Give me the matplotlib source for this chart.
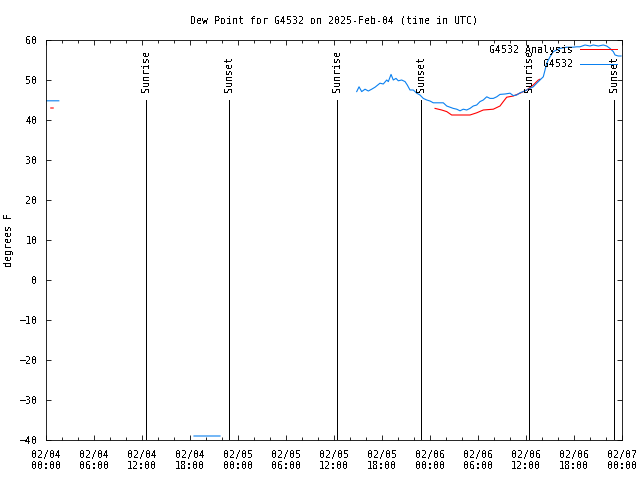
import datetime
import matplotlib
matplotlib.use('Agg')
import matplotlib.pyplot as plt
import matplotlib.ticker as ticker
import numpy as np

plt.rcParams['font.family'] = ['DejaVu Sans Mono']
plt.rcParams['font.size'] = 7.2
plt.rcParams['lines.antialiased'] = False
plt.rcParams['text.antialiased'] = False

station = 'G4532'
start = datetime.datetime(2025, 2, 4, 0, 0)
nan = float('nan')

# hours since 2025-02-04 00:00 UTC, dew point in F
obs_hours = [0.0, 1.6, nan, 18.5, 21.75, nan,
             38.84, 39.13, 39.46, 39.88, 40.29, 40.71, 41.13, 41.75, 42.16, 42.59,
             42.79, 43.13, 43.41, 43.75, 44.04, 44.46, 44.88, 45.16, 45.5, 45.91,
             46.34, 46.75, 47.16, 47.59, 48.0, 48.41, 48.84, 49.66, 50.09, 50.5,
             50.91, 51.34, 51.75, 52.16, 52.59, 53.0, 53.41, 53.84, 54.25, 54.66,
             55.09, 55.5, 55.91, 56.34, 56.75, 57.38, 58.0, 58.41, 58.84, 59.25,
             59.66, 60.09, 60.5, 60.91, 61.34, 61.75, 62.16, 62.38, 62.59, 63.0,
             63.41, 63.84, 64.25, 65.09, 65.91, 66.34, 66.75, 67.38, 68.0, 68.41,
             69.04, 69.66, 70.09, 70.5, 70.91, 71.13, 71.54, 71.88]
obs_dewp = [44.8, 44.8, nan, -39.0, -39.0, nan,
            47.1, 48.3, 47.1, 47.7, 47.25, 47.7, 48.2, 49.2, 49.0, 50.0,
            49.6, 51.4, 50.0, 50.4, 49.8, 50.0, 49.6, 48.75, 47.5, 47.5,
            46.7, 46.25, 45.4, 45.0, 44.75, 44.3, 44.3, 44.3, 43.5, 43.2,
            42.9, 42.7, 42.3, 42.7, 42.5, 42.9, 43.5, 43.75, 44.6, 45.0,
            45.8, 45.4, 45.4, 45.8, 46.4, 46.5, 46.7, 46.1, 46.25, 46.8,
            47.1, 47.5, 47.9, 48.3, 49.2, 50.0, 50.8, 52.5, 54.2, 55.8,
            57.1, 57.5, 57.9, 58.2, 58.2, 58.3, 58.3, 58.75, 58.5, 58.75,
            58.5, 58.75, 58.5, 57.9, 57.1, 56.25, 56.0, 56.0]

ana_hours = [0.6, 0.9, nan,
             48.63, 49.46, 50.09, 50.71, 53.0, 53.84, 54.66, 55.91, 56.75, 57.16,
             57.59, 58.41, 59.25, 60.09, 60.91, 61.54, 61.75]
ana_dewp = [43.0, 43.0, nan,
            42.9, 42.5, 42.1, 41.25, 41.25, 41.8, 42.5, 42.7, 43.5, 44.6,
            45.7, 46.0, 46.7, 47.5, 48.75, 50.0, 50.2]

sun_hours = [12.5, 22.875, 36.375, 46.875, 60.375, 71.0]
sun_labels = ['Sunrise', 'Sunset', 'Sunrise', 'Sunset', 'Sunrise', 'Sunset']

lw = 0.6

fig = plt.figure(figsize=(6.4, 4.8), dpi=100)
ax = fig.add_axes([46/640, 40/480, 576/640, 400/480])

ax.plot(ana_hours, ana_dewp, color='#ff0000', lw=0.8, antialiased=True, label=station + ' Analysis')
ax.plot(obs_hours, obs_dewp, color='#0a80f0', lw=0.8, antialiased=True, label=station)

for h, lab in zip(sun_hours, sun_labels):
  ax.plot([h, h], [-40, 45], color='black', lw=lw)
  ax.text(h, 47, lab, rotation=90, ha='center', va='bottom')

ax.set_xlim(0, 72)
ax.set_ylim(-40, 60)
ax.xaxis.set_major_locator(ticker.MultipleLocator(6))
ax.xaxis.set_minor_locator(ticker.MultipleLocator(2))
ax.yaxis.set_major_locator(ticker.MultipleLocator(10))

def fmt_time(h, pos):
  t = start + datetime.timedelta(hours=h)
  return t.strftime('%m/%d') + '\n' + t.strftime('%H:%M')

ax.xaxis.set_major_formatter(ticker.FuncFormatter(fmt_time))
ax.tick_params(which='both', direction='in', top=True, right=True, width=lw, color='black')
ax.tick_params(which='major', length=3.5)
ax.tick_params(which='minor', length=2)
ax.tick_params(axis='x', pad=7)
ax.tick_params(axis='y', pad=6)
for s in ax.spines.values():
  s.set_linewidth(lw)

ax.set_ylabel('degrees F')
ax.yaxis.set_label_coords(-0.056, 0.5)
ax.set_title('Dew Point for %s on 2025-Feb-04 (time in UTC)' % station, fontsize=7.2, pad=12)

leg = ax.legend(loc='upper right', frameon=False, markerfirst=False, handlelength=3.7,
                handletextpad=0.7, borderaxespad=0.4, borderpad=0.1, labelspacing=0.45)
for line in leg.get_lines():
  line.set_linewidth(lw)
  line.set_antialiased(False)

fig.savefig('out.png', dpi=100)
